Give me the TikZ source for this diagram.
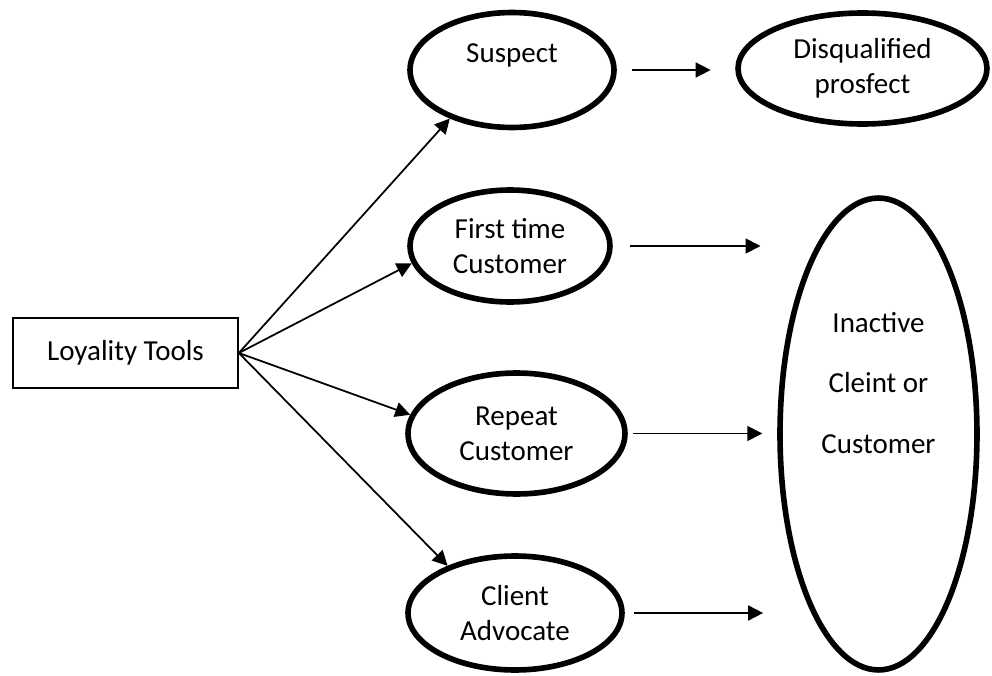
\documentclass[tikz,border=0pt]{standalone}
\usepackage{fontspec}
\setmainfont{Carlito}
\usepackage{tikz}
\usetikzlibrary{arrows.meta}
\usetikzlibrary{shapes.geometric}
\tikzset{
  stage/.style = {
    ellipse, draw, line width = 3.2pt,
    inner sep = 0pt, align = center,
    font = \fontsize{16.5}{19.8}\selectfont,
  },
  tool/.style = {
    rectangle, draw, line width = 1pt,
    minimum width = 4.5cm, minimum height = 1.4cm,
    font = \fontsize{16.5}{19.8}\selectfont,
  },
  link/.style = {
    line width = 1pt,
    -{Triangle[length = 8.5pt, width = 8.5pt]},
  },
}

\begin{document}
\begin{tikzpicture}[x = 0.02cm, y = -0.02cm]
  \useasboundingbox (0,0) rectangle (992,676);

  \node[tool] (tools) at (125.5,353) {Loyality Tools};

  % stages of the customer
  \node[stage, minimum width = 4.08cm, minimum height = 2.30cm]
    (suspect) at (512,70) {Suspect\\\mbox{}};
  \node[stage, minimum width = 4.00cm, minimum height = 2.24cm]
    (first) at (510,246) {First time\\Customer};
  \node[stage, minimum width = 4.34cm, minimum height = 2.42cm]
    (repeat) at (516.5,433.5) {Repeat\\Customer};
  \node[stage, minimum width = 4.28cm, minimum height = 2.28cm]
    (advocate) at (515,613) {Client\\Advocate};

  \node[stage, minimum width = 4.98cm, minimum height = 2.22cm]
    (disq) at (862.5,68.5) {Disqualified\\prosfect};
  \node[stage, minimum width = 3.94cm, minimum height = 9.44cm]
    (inactive) at (878.5,434) {};
  \node[align = center, font = \fontsize{16.5}{34.6}\selectfont]
    (inactivetext) at (878.5,383) {Inactive\\Cleint or\\Customer};

  % from the tools
  \draw[link] (tools.east) -- (suspect.218);
  \draw[link] (tools.east) -- (first.190);
  \draw[link] (tools.east) -- (repeat.170);
  \draw[link] (tools.east) -- (advocate.145);

  % to the end states
  \draw[link, shorten <= 8.5pt, shorten >= 14pt]
    (suspect.east) -- (suspect.east -| disq.west);
  \draw[link, shorten <= 10pt, shorten >= 9.5pt]
    (first.east) -- (first.east -| inactive.west);
  \draw[link, shorten <= 3pt, shorten >= 8.5pt]
    (repeat.east) -- (repeat.east -| inactive.west);
  \draw[link, shorten <= 5.5pt, shorten >= 8pt]
    (advocate.east) -- (advocate.east -| inactive.west);
\end{tikzpicture}
\end{document}
